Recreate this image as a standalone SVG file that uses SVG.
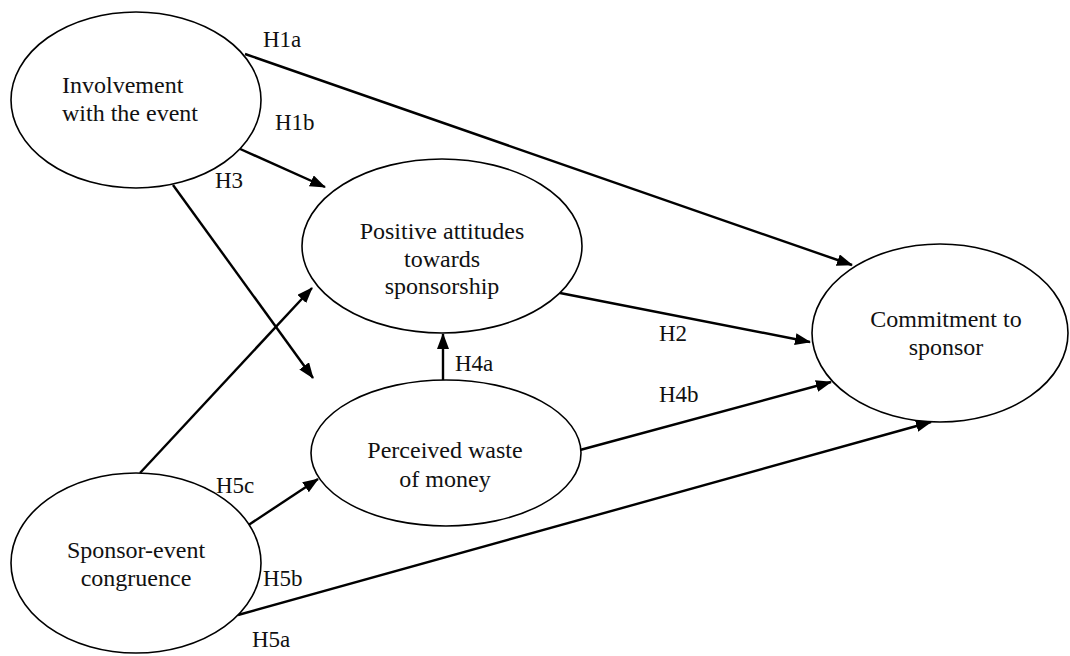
<svg xmlns="http://www.w3.org/2000/svg" width="1070" height="656" viewBox="0 0 1070 656">
<style>
.node{fill:#fff;stroke:#000;stroke-width:1.6}
.t{font-family:"Liberation Serif","Times New Roman",serif;font-size:24px;fill:#111}
.c{text-anchor:middle}
.lbl{font-family:"Liberation Serif","Times New Roman",serif;font-size:23px;fill:#111}
.e{stroke:#000;stroke-width:2.4;fill:none;marker-end:url(#ah)}
</style>
<defs>
<marker id="ah" viewBox="0 0 16 12" refX="15" refY="6" markerWidth="16" markerHeight="12" markerUnits="userSpaceOnUse" orient="auto">
<path d="M0,0 L16,6 L0,12 z" fill="#000"/>
</marker>
</defs>
<rect width="1070" height="656" fill="#fff"/>
<g id="connectors">
<line class="e" x1="245" y1="54" x2="852" y2="265"/>
<line class="e" x1="238" y1="148" x2="325" y2="187"/>
<line class="e" x1="173" y1="185" x2="313" y2="378"/>
<line class="e" x1="140" y1="473" x2="312" y2="288"/>
<line class="e" x1="443" y1="380" x2="443" y2="334"/>
<line class="e" x1="560" y1="293" x2="810" y2="342"/>
<line class="e" x1="580" y1="450" x2="831" y2="382"/>
<line class="e" x1="247" y1="526" x2="318" y2="479"/>
<line class="e" x1="238" y1="615" x2="931" y2="422"/>
</g>
<g id="labels">
<text class="lbl" x="263" y="47">H1a</text>
<text class="lbl" x="275" y="130">H1b</text>
<text class="lbl" x="215" y="188">H3</text>
<text class="lbl" x="455" y="371">H4a</text>
<text class="lbl" x="659" y="341">H2</text>
<text class="lbl" x="659" y="402">H4b</text>
<text class="lbl" x="216" y="493">H5c</text>
<text class="lbl" x="263" y="586">H5b</text>
<text class="lbl" x="252" y="647">H5a</text>
</g>
<g id="involvement">
<ellipse class="node" cx="136" cy="100" rx="125" ry="88"/>
<text class="t" x="62" y="93">Involvement</text>
<text class="t" x="62" y="121">with the event</text>
</g>
<g id="attitudes">
<ellipse class="node" cx="442" cy="246" rx="140" ry="87"/>
<text class="t c" x="442" y="239">Positive attitudes</text>
<text class="t c" x="442" y="267">towards</text>
<text class="t c" x="442" y="294">sponsorship</text>
</g>
<g id="commitment">
<ellipse class="node" cx="940" cy="333" rx="128" ry="89"/>
<text class="t c" x="946" y="327">Commitment to</text>
<text class="t c" x="946" y="355">sponsor</text>
</g>
<g id="waste">
<ellipse class="node" cx="446" cy="453" rx="135" ry="73"/>
<text class="t c" x="445" y="458">Perceived waste</text>
<text class="t c" x="445" y="487">of money</text>
</g>
<g id="congruence">
<ellipse class="node" cx="136" cy="563" rx="125" ry="90"/>
<text class="t c" x="136" y="558">Sponsor-event</text>
<text class="t c" x="136" y="586">congruence</text>
</g>
</svg>
